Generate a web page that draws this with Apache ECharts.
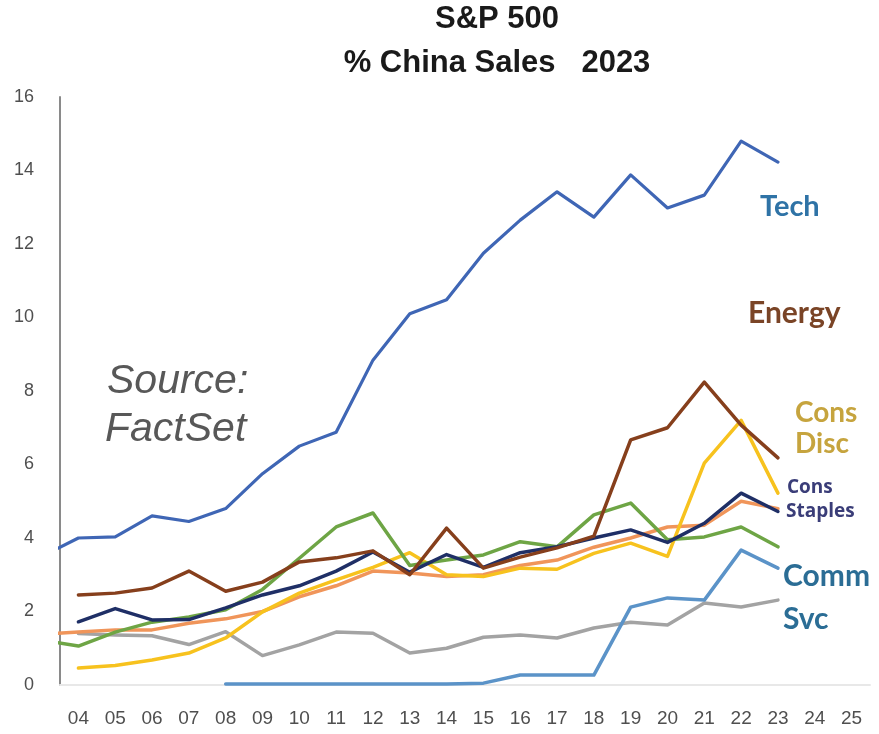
<!DOCTYPE html>
<html>
<head>
<meta charset="utf-8">
<title>S&amp;P 500 % China Sales 2023</title>
<script src="https://cdn.jsdelivr.net/npm/echarts@6/dist/echarts.min.js"></script>
<style>
  html, body { margin: 0; padding: 0; background: #fff; }
  #chart { width: 879px; height: 734px; }
</style>
</head>
<body>
<div id="chart"></div>
<script>
// Fiscal years plotted (2003 is only partly visible at the left edge)
const years = [2003, 2004, 2005, 2006, 2007, 2008, 2009, 2010, 2011, 2012, 2013,
               2014, 2015, 2016, 2017, 2018, 2019, 2020, 2021, 2022, 2023];

// Axis tick years and their two-digit labels
const tickYears = [2004, 2005, 2006, 2007, 2008, 2009, 2010, 2011, 2012, 2013, 2014,
                   2015, 2016, 2017, 2018, 2019, 2020, 2021, 2022, 2023, 2024, 2025];
const yTicks = [0, 2, 4, 6, 8, 10, 12, 14, 16];

// % of sales from China, by sector
const tech        = [3.5, 4.0, 4.03, 4.6, 4.45, 4.8, 5.75, 6.5, 6.88, 8.84, 10.1,
                     10.48, 11.75, 12.65, 13.42, 12.73, 13.88, 12.98, 13.33, 14.8, 14.23];
const energy      = [null, 2.45, 2.5, 2.64, 3.1, 2.55, 2.8, 3.35, 3.46, 3.65, 3.0,
                     4.27, 3.18, 3.48, 3.73, 4.05, 6.67, 7.0, 8.24, 7.07, 6.18];
const consDisc    = [null, 0.46, 0.53, 0.68, 0.87, 1.28, 1.99, 2.5, 2.86, 3.2, 3.6,
                     3.0, 2.95, 3.18, 3.15, 3.58, 3.86, 3.5, 6.04, 7.2, 5.22];
const consStaples = [null, 1.72, 2.08, 1.77, 1.78, 2.1, 2.45, 2.7, 3.1, 3.62, 3.07,
                     3.55, 3.2, 3.6, 3.76, 4.0, 4.22, 3.88, 4.4, 5.22, 4.72];
const commSvc     = [null, null, null, null, null, 0.03, 0.03, 0.03, 0.03, 0.03, 0.03,
                     0.03, 0.05, 0.27, 0.27, 0.27, 2.12, 2.37, 2.31, 3.67, 3.18];
const industrials = [1.22, 1.06, 1.44, 1.71, 1.85, 2.05, 2.6, 3.45, 4.3, 4.68, 3.25,
                     3.4, 3.54, 3.9, 3.76, 4.63, 4.95, 3.95, 4.03, 4.3, 3.76];
const healthCare  = [null, 1.4, 1.36, 1.34, 1.1, 1.45, 0.8, 1.09, 1.44, 1.41, 0.87,
                     1.0, 1.3, 1.36, 1.28, 1.55, 1.71, 1.63, 2.23, 2.12, 2.31];
const materials   = [1.38, 1.44, 1.5, 1.5, 1.68, 1.8, 2.0, 2.4, 2.7, 3.1, 3.05,
                     2.95, 3.0, 3.25, 3.4, 3.75, 4.0, 4.3, 4.35, 5.0, 4.8];

function pairs(values) {
  return years.map((y, i) => [y, values[i]]);
}

function lineSeries(name, values, color, width) {
  return {
    name: name,
    type: 'line',
    data: pairs(values),
    symbol: 'none',
    connectNulls: false,
    clip: true,
    lineStyle: { color: color, width: width, cap: 'round', join: 'round' },
    emphasis: { disabled: true }
  };
}

const chart = echarts.init(document.getElementById('chart'), null, { renderer: 'canvas' });

const labelFont = 'Lato, "Open Sans", sans-serif';
const axisFont = '"Liberation Sans Narrow", "Liberation Sans", sans-serif';

chart.setOption({
  animation: false,
  backgroundColor: '#ffffff',
  grid: { left: 60, right: 9, top: 97, bottom: 49, containLabel: false },
  xAxis: {
    type: 'value',
    min: 2003.5,
    max: 2025.5,
    splitLine: { show: false },
    axisTick: { show: false },
    axisLine: { show: true, onZero: false, lineStyle: { color: '#e8e8e8', width: 2 } },
    axisLabel: {
      customValues: tickYears,
      formatter: v => String(v % 100).padStart(2, '0'),
      margin: 24,
      color: '#4f4f4f',
      fontSize: 19,
      fontFamily: axisFont
    }
  },
  yAxis: {
    type: 'value',
    min: 0,
    max: 16,
    interval: 2,
    splitLine: { show: false },
    axisTick: { show: false },
    axisLine: { show: true, lineStyle: { color: '#8a8a8a', width: 2 } },
    axisLabel: {
      customValues: yTicks,
      margin: 26,
      color: '#4f4f4f',
      fontSize: 18,
      fontFamily: axisFont
    }
  },
  series: [
    lineSeries('Health Care', healthCare, '#a3a3a3', 3.5),
    lineSeries('Comm Svc', commSvc, '#5b93c8', 3.5),
    lineSeries('Materials', materials, '#f0955a', 3.5),
    lineSeries('Cons Disc', consDisc, '#f7c21e', 3.5),
    lineSeries('Industrials', industrials, '#6ea545', 3.5),
    lineSeries('Cons Staples', consStaples, '#1f2f66', 3.5),
    lineSeries('Energy', energy, '#863f1c', 3.5),
    lineSeries('Tech', tech, '#3f66b5', 3.2)
  ],
  graphic: [
    { type: 'text', x: 497, y: 19, style: { text: 'S&P 500', fill: '#1a1a1a',
      fontSize: 31, fontWeight: 'bold', fontFamily: '"Liberation Sans", Arial, sans-serif',
      align: 'center', verticalAlign: 'middle' } },
    { type: 'text', x: 497, y: 63, style: { text: '% China Sales   2023', fill: '#1a1a1a',
      fontSize: 31, fontWeight: 'bold', fontFamily: '"Liberation Sans", Arial, sans-serif',
      align: 'center', verticalAlign: 'middle' } },

    { type: 'text', x: 107, y: 382, style: { text: 'Source:', fill: '#585858',
      fontSize: 41, fontStyle: 'italic', fontFamily: '"Liberation Sans", Arial, sans-serif',
      align: 'left', verticalAlign: 'middle' } },
    { type: 'text', x: 105, y: 430, style: { text: 'FactSet', fill: '#585858',
      fontSize: 41, fontStyle: 'italic', fontFamily: '"Liberation Sans", Arial, sans-serif',
      align: 'left', verticalAlign: 'middle' } },

    { type: 'text', x: 760, y: 207, style: { text: 'Tech', fill: '#2f73a6',
      fontSize: 29, fontWeight: 'bold', fontFamily: labelFont, align: 'left', verticalAlign: 'middle' } },
    { type: 'text', x: 748, y: 313, style: { text: 'Energy', fill: '#7a4426',
      fontSize: 30, fontWeight: 'bold', fontFamily: labelFont, align: 'left', verticalAlign: 'middle' } },
    { type: 'text', x: 795, y: 413, style: { text: 'Cons', fill: '#c6a43e',
      fontSize: 28, fontWeight: 'bold', fontFamily: labelFont, align: 'left', verticalAlign: 'middle' } },
    { type: 'text', x: 795, y: 444, style: { text: 'Disc', fill: '#c6a43e',
      fontSize: 28, fontWeight: 'bold', fontFamily: labelFont, align: 'left', verticalAlign: 'middle' } },
    { type: 'text', x: 787, y: 488, style: { text: 'Cons', fill: '#3a3d78',
      fontSize: 19, fontWeight: 'bold', fontFamily: '"Open Sans", sans-serif', align: 'left', verticalAlign: 'middle' } },
    { type: 'text', x: 786, y: 512, style: { text: 'Staples', fill: '#3a3d78',
      fontSize: 19, fontWeight: 'bold', fontFamily: '"Open Sans", sans-serif', align: 'left', verticalAlign: 'middle' } },
    { type: 'text', x: 783, y: 576, style: { text: 'Comm', fill: '#2b6d95',
      fontSize: 30, fontWeight: 'bold', fontFamily: labelFont, align: 'left', verticalAlign: 'middle' } },
    { type: 'text', x: 783, y: 619, style: { text: 'Svc', fill: '#2b6d95',
      fontSize: 30, fontWeight: 'bold', fontFamily: labelFont, align: 'left', verticalAlign: 'middle' } }
  ]
});
</script>
</body>
</html>
